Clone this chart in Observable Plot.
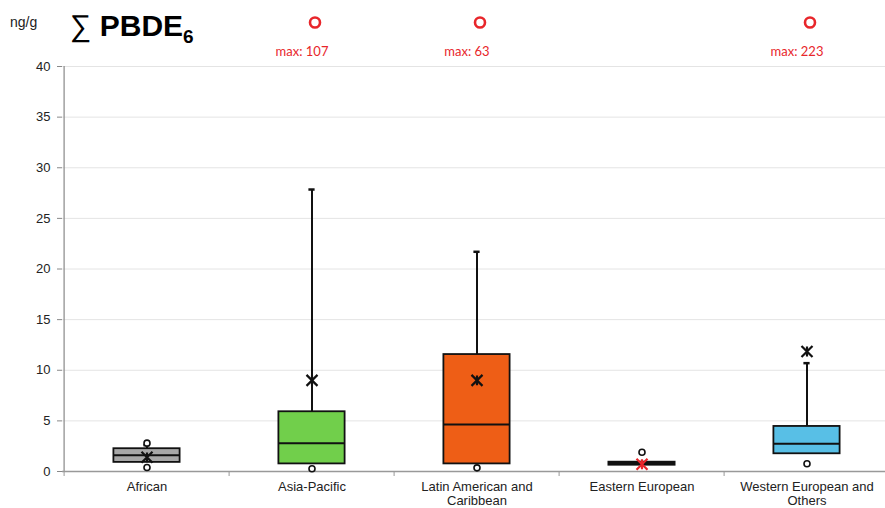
<!DOCTYPE html>
<html><head><meta charset="utf-8">
<script src="https://cdn.jsdelivr.net/npm/d3@7"></script>
<script src="https://cdn.jsdelivr.net/npm/@observablehq/plot@0.6"></script>
<style>
body{margin:0;background:#fff;}
#wrap{position:relative;width:885px;height:508px;overflow:hidden;font-family:"Liberation Sans",Arial,sans-serif;}
#unit{position:absolute;left:10px;top:14px;font-size:14px;color:#222;}
#title{position:absolute;left:70px;top:11px;font-size:30px;line-height:30px;font-weight:bold;color:#000;white-space:nowrap;}
#title .sig{font-weight:normal;}
#title sub{font-size:19px;vertical-align:baseline;position:relative;top:7px;}
</style></head><body><div id="wrap"><div id="unit">ng/g</div><div id="title"><span class="sig">∑</span> PBDE<sub>6</sub></div></div>
<script>
const categories = ["African", "Asia-Pacific", "Latin American and Caribbean", "Eastern European", "Western European and Others"];
const axisLabels = ["African", "Asia-Pacific", "Latin American and\nCaribbean", "Eastern European", "Western European and\nOthers"];
const q1 = [0.9, 0.75, 0.75, 0.62, 1.75];
const median = [1.6, 2.8, 4.65, 0.78, 2.75];
const q3 = [2.25, 5.9, 11.55, 0.92, 4.45];
const whiskerHigh = [2.6, 27.85, 21.7, 0.92, 10.7];
const meanVal = [1.4, 9.0, 9.0, 0.72, 11.85];
const minVal = [0.4, 0.27, 0.36, null, 0.76];
const maxVal = [2.8, 107, 63, 1.9, 223];
const boxColors = ["#a8a8a8", "#71cf4b", "#ee5e16", "#111111", "#58bfe6"];
const meanColors = ["#111", "#111", "#111", "#e8262b", "#111"];
const yTicks = [0, 5, 10, 15, 20, 25, 30, 35, 40];

const rows = categories.map((c, i) => ({
  cat: c, label: axisLabels[i], q1: q1[i], med: median[i], q3: q3[i], hi: whiskerHigh[i],
  mean: meanVal[i], min: minVal[i], max: maxVal[i], color: boxColors[i], meanColor: meanColors[i]
}));
const labelOf = new Map(rows.map(d => [d.cat, d.label]));
const yMax = 40;
const inChart = rows.filter(d => d.max <= yMax);
const offChart = rows.filter(d => d.max > yMax);
const mins = rows.filter(d => d.min != null);

const xRange = [62, 891];
const bw = (xRange[1] - xRange[0]) / categories.length;
const boxInset = (bw - 67) / 2;
const capInset = (bw - 7) / 2;

const star = {draw(ctx, size) {
  const r = Math.sqrt(size / Math.PI);
  ctx.moveTo(-r, -r); ctx.lineTo(r, r);
  ctx.moveTo(r, -r); ctx.lineTo(-r, r);
  ctx.moveTo(0, -r * 0.9); ctx.lineTo(0, r * 0.9);
}};

const chart = Plot.plot({
  width: 885, height: 508,
  marginLeft: 62, marginRight: 0, marginTop: 66, marginBottom: 37,
  style: {fontFamily: "Liberation Sans, Arial, sans-serif", fontSize: "13px", color: "#222", background: "transparent"},
  x: {type: "band", domain: categories, range: xRange, padding: 0},
  y: {domain: [0, yMax]},
  marks: [
    Plot.gridY(yTicks, {stroke: "#e4e4e4", strokeOpacity: 1}),
    Plot.axisY(yTicks, {tickSize: 5, tickPadding: 7, stroke: "#888", label: null, fontSize: 13}),
    Plot.axisX({tickSize: 0, tickPadding: 10, label: null, tickFormat: d => labelOf.get(d), fontSize: 13, lineHeight: 1.05}),
    Plot.axisX({tickSize: 5, tickFormat: () => "", label: null, dx: -bw / 2, stroke: "#999"}),
    Plot.ruleX([categories[0]], {x: d => d, dx: -bw / 2, stroke: "#888", strokeWidth: 1.2}),
    Plot.ruleY([0], {stroke: "#999", strokeWidth: 1.5}),
    Plot.ruleX(rows, {x: "cat", y1: "q3", y2: "hi", stroke: "#111", strokeWidth: 2}),
    Plot.tickY(rows, {x: "cat", y: "hi", insetLeft: capInset, insetRight: capInset, stroke: "#111", strokeWidth: 2.5}),
    Plot.barY(rows, {x: "cat", y1: "q1", y2: "q3", fill: "color", stroke: "#111", strokeWidth: 1.8, insetLeft: boxInset, insetRight: boxInset}),
    Plot.tickY(rows, {x: "cat", y: "med", insetLeft: boxInset, insetRight: boxInset, stroke: "#111", strokeWidth: 2}),
    Plot.dot(mins, {x: "cat", y: "min", r: 3, fill: "white", stroke: "#111", strokeWidth: 1.6}),
    Plot.dot(inChart, {x: "cat", y: "max", r: 3, fill: "white", stroke: "#111", strokeWidth: 1.6}),
    Plot.dot(rows, {x: "cat", y: "mean", symbol: star, r: 5.5, stroke: "meanColor", strokeWidth: 2.2}),
    Plot.dot(offChart, {x: "cat", frameAnchor: "top", dy: -44, dx: 3, r: 5, fill: "white", stroke: "#e8262b", strokeWidth: 2.6}),
    Plot.text(offChart, {x: "cat", frameAnchor: "top", dy: -20, dx: -10, text: d => "max: " + d.max, fill: "#e8262b", fontFamily: "Lato, sans-serif", fontSize: 13})
  ]
});
document.getElementById("wrap").prepend(chart);
</script>
</body></html>
